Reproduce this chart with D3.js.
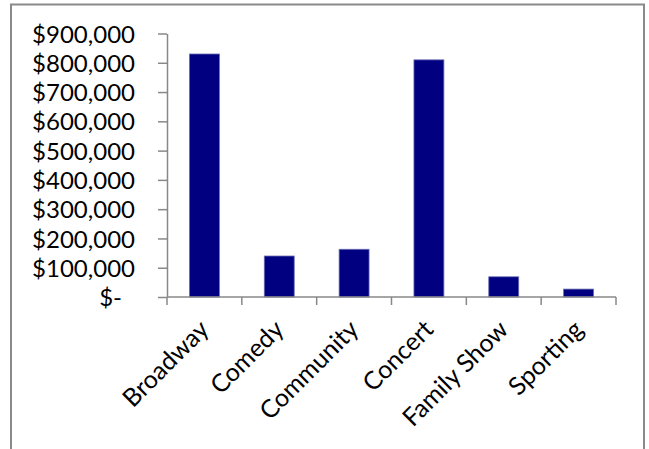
<!DOCTYPE html>
<html>
<head>
<meta charset="utf-8">
<script src="https://cdn.jsdelivr.net/npm/d3@7"></script>
<style>
  html, body { margin: 0; padding: 0; background: #fff; }
  svg { display: block; }
  text { font-family: Lato, "Open Sans", sans-serif; fill: #000; }
</style>
</head>
<body>
<svg id="chart" width="649" height="449"></svg>
<script>
// Revenue by event category
const categories = ["Broadway", "Comedy", "Community", "Concert", "Family Show", "Sporting"];
const revenue = [830000, 140000, 163000, 810000, 69000, 27000];
const yTicks = [0, 100000, 200000, 300000, 400000, 500000, 600000, 700000, 800000, 900000];

const svg = d3.select("#chart");
const W = 649, H = 449;

// outer chart frame (bottom edge runs off the canvas)
svg.append("path")
  .attr("d", `M11,${H + 2} L11,4.5 L644,4.5 L644,${H + 2}`)
  .attr("fill", "none")
  .attr("stroke", "#8a8a8a")
  .attr("stroke-width", 2);

const plot = { left: 167, right: 616, top: 33.5, bottom: 297 };

const y = d3.scaleLinear().domain([0, 900000]).range([plot.bottom, plot.top]);
const x = d3.scaleBand()
  .domain(categories)
  .range([plot.left, plot.right])
  .paddingInner(0.6)
  .paddingOuter(0.3);

const axisColor = "#888";
const fmt = d => d === 0 ? "$-" : "$" + d3.format(",")(d);

// value axis
const yAxis = svg.append("g")
  .attr("transform", `translate(${plot.left},0)`)
  .call(d3.axisLeft(y).tickValues(yTicks).tickFormat(fmt).tickSize(9).tickPadding(23).tickSizeOuter(0));
yAxis.select(".domain").attr("stroke", axisColor).attr("stroke-width", 1.5);
yAxis.selectAll(".tick line").attr("stroke", axisColor).attr("stroke-width", 1.5);
yAxis.selectAll(".tick text")
  .style("font-size", "24px")
  .style("font-family", "Lato, 'Open Sans', sans-serif")
  .attr("dy", "0.36em")
  .attr("dx", d => d === 0 ? -13 : 0);

// bars
svg.append("g").selectAll("rect")
  .data(categories)
  .join("rect")
  .attr("x", d => x(d))
  .attr("width", x.bandwidth())
  .attr("y", (d, i) => y(revenue[i]))
  .attr("height", (d, i) => y(0) - y(revenue[i]))
  .attr("fill", "#000080")
  .attr("stroke", "#6b6bb5")
  .attr("stroke-width", 0.8);

// category axis: line plus tick marks at band boundaries
const gap = (x.step() - x.bandwidth()) / 2;
const boundaries = categories.map(c => x(c) - gap).concat([x(categories[categories.length - 1]) + x.bandwidth() + gap]);
const xAxis = svg.append("g");
xAxis.append("line")
  .attr("x1", boundaries[0]).attr("x2", boundaries[boundaries.length - 1])
  .attr("y1", y(0)).attr("y2", y(0))
  .attr("stroke", axisColor).attr("stroke-width", 1.5);
xAxis.selectAll("line.tick")
  .data(boundaries)
  .join("line")
  .attr("class", "tick")
  .attr("x1", d => d).attr("x2", d => d)
  .attr("y1", y(0)).attr("y2", y(0) + 8)
  .attr("stroke", axisColor).attr("stroke-width", 1.5);

// rotated category labels
xAxis.selectAll("text")
  .data(categories)
  .join("text")
  .attr("transform", d => `translate(${x(d) + x.bandwidth() / 2 + 6},${y(0) + 34}) rotate(-45)`)
  .attr("text-anchor", "end")
  .style("font-size", "25px")
  .text(d => d);
</script>
</body>
</html>
